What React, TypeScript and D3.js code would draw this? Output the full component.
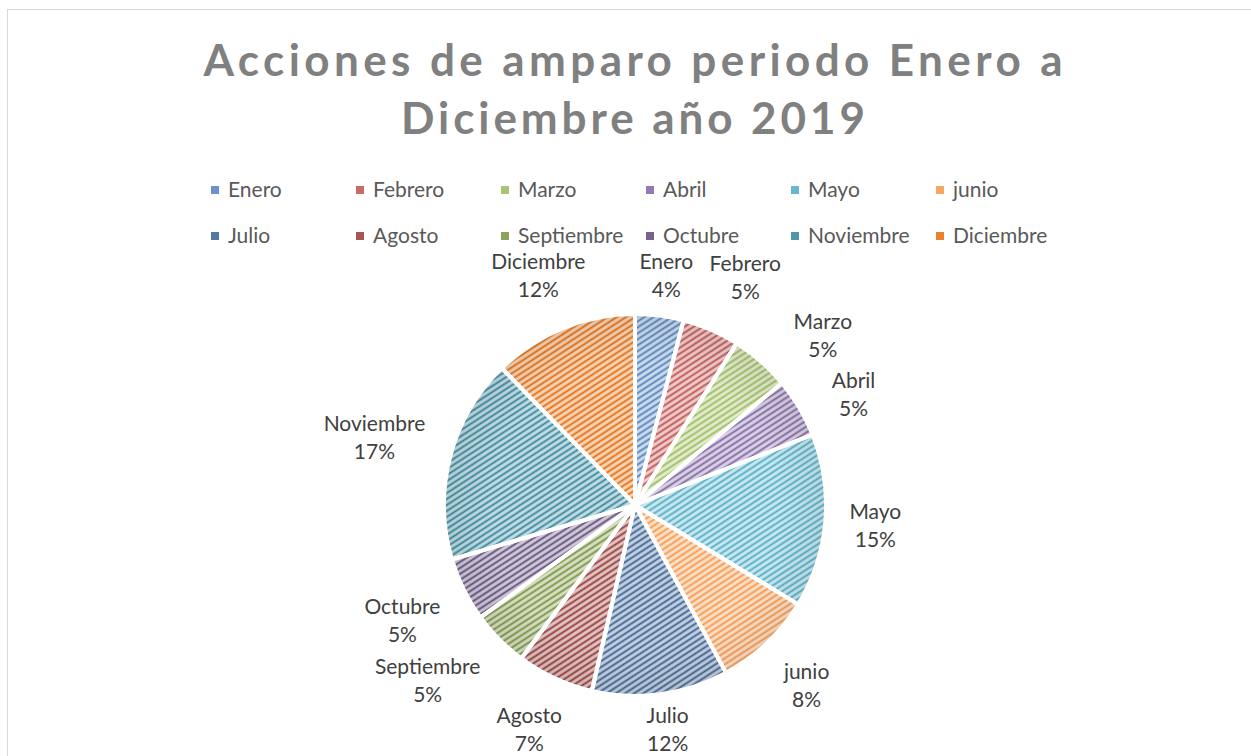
import React, { useMemo } from 'react';
import * as d3 from 'd3';

const months = ['Enero', 'Febrero', 'Marzo', 'Abril', 'Mayo', 'junio', 'Julio', 'Agosto', 'Septiembre', 'Octubre', 'Noviembre', 'Diciembre'];
const values = [22, 26, 27, 27, 79, 45, 62, 35, 26, 29, 93, 66];
const colors = ['#4F81BD', '#C0504D', '#9BBB59', '#8064A2', '#4BACC6', '#F79646', '#376092', '#953735', '#76923C', '#5F497A', '#31859C', '#E46C0A'];
const titleLines = ['Acciones de amparo periodo Enero a', 'Diciembre año 2019'];

const W = 1251;
const H = 756;
const FONT = 'Lato, "Open Sans", "DejaVu Sans", sans-serif';

let ctx: CanvasRenderingContext2D | null = null;
function measure(text: string, font: string): number {
  if (!ctx) ctx = document.createElement('canvas').getContext('2d');
  if (!ctx) return text.length * 10;
  ctx.font = font;
  return ctx.measureText(text).width;
}

type Box = { x: number; y: number; w: number; h: number };
function overlap(a: Box, b: Box, pad: number) {
  return Math.abs(a.x - b.x) < (a.w + b.w) / 2 + pad && Math.abs(a.y - b.y) < (a.h + b.h) / 2;
}

export default function App() {
  const cx = 635;
  const cy = 505;
  const r = 191;
  const total = d3.sum(values);

  const arcs = useMemo(() => d3.pie<number>().sort(null).value((d) => d)(values), []);
  const arcGen = d3.arc<d3.PieArcDatum<number>>().innerRadius(0).outerRadius(r);

  const labelFont = `21px Lato`;
  const plotTop = 247;
  const plotBottom = 757;
  const h = 56;
  const hc = 58;

  const place = (a: number, w: number) => {
    const s = Math.sin(a);
    const c = Math.cos(a);
    const dist = r + 22 + (w / 2) * Math.abs(s) + (h / 2) * Math.abs(c);
    let y = cy - dist * c;
    y = Math.max(plotTop + h / 2, Math.min(plotBottom - h / 2, y));
    return { x: cx + dist * s, y };
  };

  const labels = arcs.map((p, i) => {
    const a = (p.startAngle + p.endAngle) / 2;
    const pct = Math.round((p.value / total) * 100) + '%';
    const w = Math.max(measure(months[i], labelFont), measure(pct, labelFont));
    return { a, w, name: months[i], pct, ...place(a, w) };
  });

  // resolve collisions with a single clockwise sweep
  const done: Box[] = [];
  labels.forEach((l) => {
    let a = l.a;
    let pos = place(a, l.w);
    let guard = 0;
    while (done.some((b) => overlap({ x: pos.x, y: pos.y, w: l.w, h: hc }, b, 16)) && guard < 200) {
      a += 0.005;
      pos = place(a, l.w);
      guard++;
    }
    l.x = pos.x;
    l.y = pos.y;
    done.push({ x: pos.x, y: pos.y, w: l.w, h: hc });
  });

  const legendX = d3.scaleLinear().domain([0, 5]).range([211, 936]);
  const legendY = d3.scaleLinear().domain([0, 1]).range([186, 232]);

  return (
    <svg width={W} height={H} style={{ position: 'fixed', left: 0, top: 0, background: '#fff' }}>
      <defs>
        {colors.map((col, i) => {
          const bg = d3.interpolateRgb(col, '#ffffff')(0.72);
          return (
            <pattern key={i} id={`pat-${i}`} patternUnits="userSpaceOnUse" width={5} height={5} patternTransform="rotate(-33)">
              <rect x={0} y={0} width={5} height={5} fill={bg} />
              <rect x={0} y={1.6} width={5} height={1.8} fill={col} />
            </pattern>
          );
        })}
        <radialGradient id="rim" cx="50%" cy="50%" r="50%">
          <stop offset="75%" stopColor="#000" stopOpacity={0} />
          <stop offset="100%" stopColor="#000" stopOpacity={0.07} />
        </radialGradient>
      </defs>
      <rect x={7.5} y={9.5} width={3000} height={3000} fill="#fff" stroke="#d9d9d9" strokeWidth={1} />

      {titleLines.map((t, i) => (
        <text
          key={i}
          x={633}
          y={76 + i * 58}
          textAnchor="middle"
          fontFamily={FONT}
          fontWeight="bold"
          fontSize={44}
          fill="#808080"
          textLength={i === 0 ? 859 : 464}
          lengthAdjust="spacing"
        >
          {t}
        </text>
      ))}

      {months.map((m, i) => {
        const col = i % 6;
        const row = Math.floor(i / 6);
        const x = legendX(col);
        const y = legendY(row);
        return (
          <g key={m}>
            <rect x={x} y={y} width={8} height={8} fill={d3.interpolateRgb(colors[i], '#ffffff')(0.15)} />
            <text x={x + 17} y={y + 11} fontFamily={FONT} fontSize={21} fill="#595959">
              {m}
            </text>
          </g>
        );
      })}

      <g transform={`translate(${cx},${cy})`}>
        {arcs.map((p, i) => (
          <path key={i} d={arcGen(p) || ''} fill={`url(#pat-${i})`} />
        ))}
        <circle r={r} fill="url(#rim)" pointerEvents="none" />
        {arcs.map((p, i) => (
          <path key={'s' + i} d={arcGen(p) || ''} fill="none" stroke="#fff" strokeWidth={4} strokeLinejoin="round" />
        ))}
      </g>

      {labels.map((l) => (
        <g key={l.name}>
          <text x={l.x} y={l.y - 6} textAnchor="middle" fontFamily={FONT} fontSize={21} fill="#404040">
            {l.name}
          </text>
          <text x={l.x} y={l.y + 22} textAnchor="middle" fontFamily={FONT} fontSize={21} fill="#404040">
            {l.pct}
          </text>
        </g>
      ))}
    </svg>
  );
}
